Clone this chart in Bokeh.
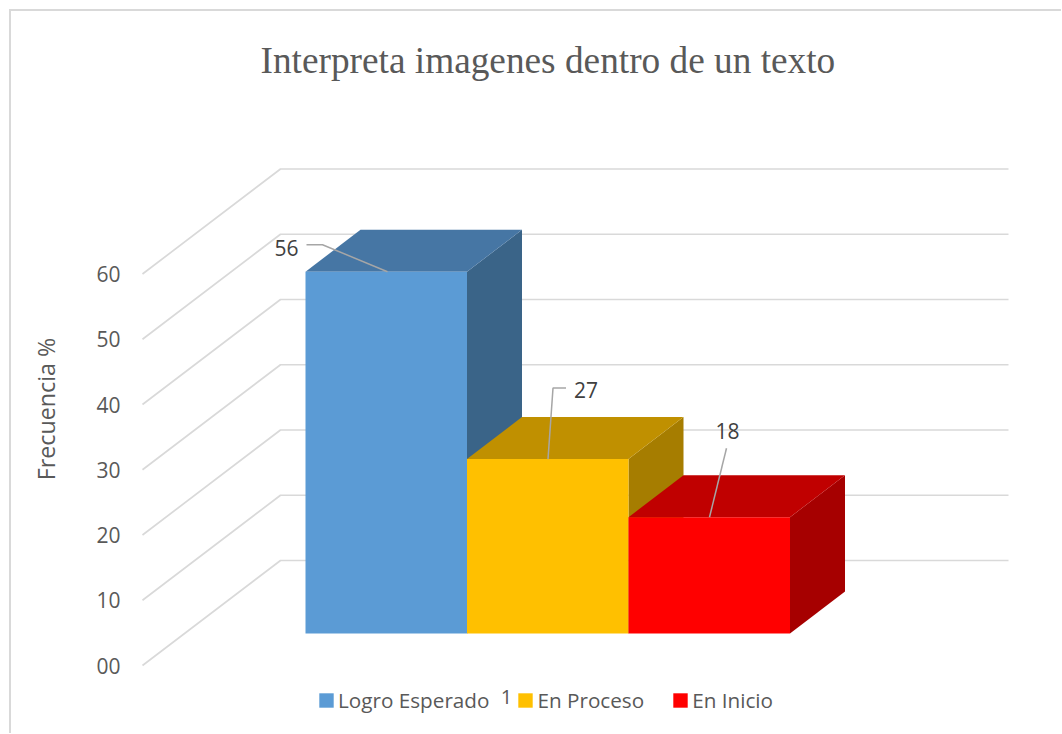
from bokeh.plotting import figure
from bokeh.embed import file_html
from bokeh.resources import INLINE
from bokeh.core.properties import value
from bokeh.models import FixedTicker, Legend, LegendItem, Range1d

# ---- data
title_text = "Interpreta imagenes dentro de un texto"
axis_title = "Frecuencia %"
categories = ["Logro Esperado", "En Proceso", "En Inicio"]
values = [56, 27, 18]
y_ticks = [0, 10, 20, 30, 40, 50, 60]
y_tick_labels = ["00", "10", "20", "30", "40", "50", "60"]
category_label = "1"

front_colors = ["#5B9BD5", "#FFC000", "#FF0000"]
top_colors = ["#4676A4", "#C09000", "#C00000"]
side_colors = ["#3A6488", "#A67D00", "#A60000"]

# ---- geometry of the oblique projection (x in page px, y in value units)
PX = 6.525
FIG_W, FIG_H = 1062, 734
FRAME_L, FRAME_T = 130, 83
ZERO_Y = 665
WALL_X0, WALL_X1, WALL_DX = 142, 1008, 138
WALL_DV = 105 / PX
BAR_X0, BAR_W = 305, 161.5
BAR_BASE = (665 - 633) / PX
BAR_SCALE = 0.99
DEPTH_DX, DEPTH_DV = 55, 42 / PX
FONT = "Open Sans"
GREY = "#595959"

p = figure(
    width=FIG_W, height=FIG_H, output_backend="svg", toolbar_location=None,
    x_range=Range1d(FRAME_L, FIG_W),
    y_range=Range1d(-(FIG_H - ZERO_Y) / PX, (ZERO_Y - FRAME_T) / PX),
    min_border_left=FRAME_L, min_border_right=0, min_border_top=FRAME_T, min_border_bottom=0,
    outline_line_color=None, background_fill_alpha=0, border_fill_alpha=0,
)
# chart border, painted behind the transparent plot
BORDER = "linear-gradient(#D9D9D9,#D9D9D9)"
p.styles = {
    "background-color": "white",
    "background-image": f"{BORDER},{BORDER}",
    "background-repeat": "no-repeat",
    "background-size": "1052px 2px,2px 724px",
    "background-position": "9px 9px,9px 9px",
}
p.xaxis.visible = False
p.xgrid.visible = False
p.ygrid.visible = False

# title
p.title.text = title_text
p.title.text_font = "Liberation Serif"
p.title.text_font_size = "37.3px"
p.title.text_font_style = "normal"
p.title.text_color = GREY
p.title.align = "left"
p.title.offset = 130
p.title.standoff = 6

# value axis
ax = p.yaxis[0]
ax.ticker = FixedTicker(ticks=y_ticks)
ax.major_label_overrides = dict(zip(y_ticks, y_tick_labels))
ax.axis_line_color = None
ax.major_tick_line_color = None
ax.minor_tick_line_color = None
ax.major_tick_out = 0
ax.major_label_standoff = 10
ax.major_label_text_font = FONT
ax.major_label_text_font_size = "21px"
ax.major_label_text_color = GREY
ax.axis_label = axis_title
ax.axis_label_text_font = FONT
ax.axis_label_text_font_size = "23.3px"
ax.axis_label_text_font_style = "normal"
ax.axis_label_text_color = GREY
ax.axis_label_standoff = 31

# walls
GRID = dict(line_color="#D9D9D9", line_width=1.7)
for t in y_ticks:
    p.line([WALL_X0, WALL_X0 + WALL_DX, WALL_X1], [t, t + WALL_DV, t + WALL_DV], **GRID)

# bars
fronts = []
for i, v in enumerate(values):
    x0 = BAR_X0 + i * BAR_W
    x1 = x0 + BAR_W
    b = BAR_BASE
    t = BAR_BASE + v * BAR_SCALE
    p.patch([x1, x1 + DEPTH_DX, x1 + DEPTH_DX, x1], [b, b + DEPTH_DV, t + DEPTH_DV, t],
            fill_color=side_colors[i], line_color=None)
    p.patch([x0, x1, x1 + DEPTH_DX, x0 + DEPTH_DX], [t, t, t + DEPTH_DV, t + DEPTH_DV],
            fill_color=top_colors[i], line_color=None)
    fronts.append(p.patch([x0, x1, x1, x0], [b, b, t, t], fill_color=front_colors[i], line_color=None))

# leader lines and data labels, as page-pixel offsets from each bar's top-front-left corner
leader_px = [
    [(82, 0), (17, 27), (1, 27)],
    [(81, 0), (86, 71), (99, 71)],
    [(81, 0), (98, 69)],
]
label_px = [(-19, 24), (119, 69), (99, 86)]
LEADER = dict(line_color="#A6A6A6", line_width=1.5)
for i, v in enumerate(values):
    x0 = BAR_X0 + i * BAR_W
    t = BAR_BASE + v * BAR_SCALE
    p.line([x0 + a for a, _ in leader_px[i]], [t + c / PX for _, c in leader_px[i]], **LEADER)
    p.text([x0 + label_px[i][0]], [t + label_px[i][1] / PX], text=[str(v)],
           text_font=value(FONT), text_font_size="21px", text_color="#404040",
           text_align="center", text_baseline="middle")

# category label
p.text([506], [(665 - 696) / PX], text=[category_label], text_font=value(FONT),
       text_font_size="20px", text_color=GREY, text_align="center", text_baseline="middle")

# legend
legend = Legend(
    items=[LegendItem(label=c, renderers=[r]) for c, r in zip(categories, fronts)],
    orientation="horizontal", location=(187, 20),
    glyph_width=18, glyph_height=18, label_standoff=3, spacing=27,
    padding=0, margin=0, border_line_color=None, background_fill_alpha=0,
    label_text_font=FONT, label_text_font_size="20.7px", label_text_color=GREY,
)
p.add_layout(legend, "center")

open("out.html", "w").write(file_html(p, INLINE))
